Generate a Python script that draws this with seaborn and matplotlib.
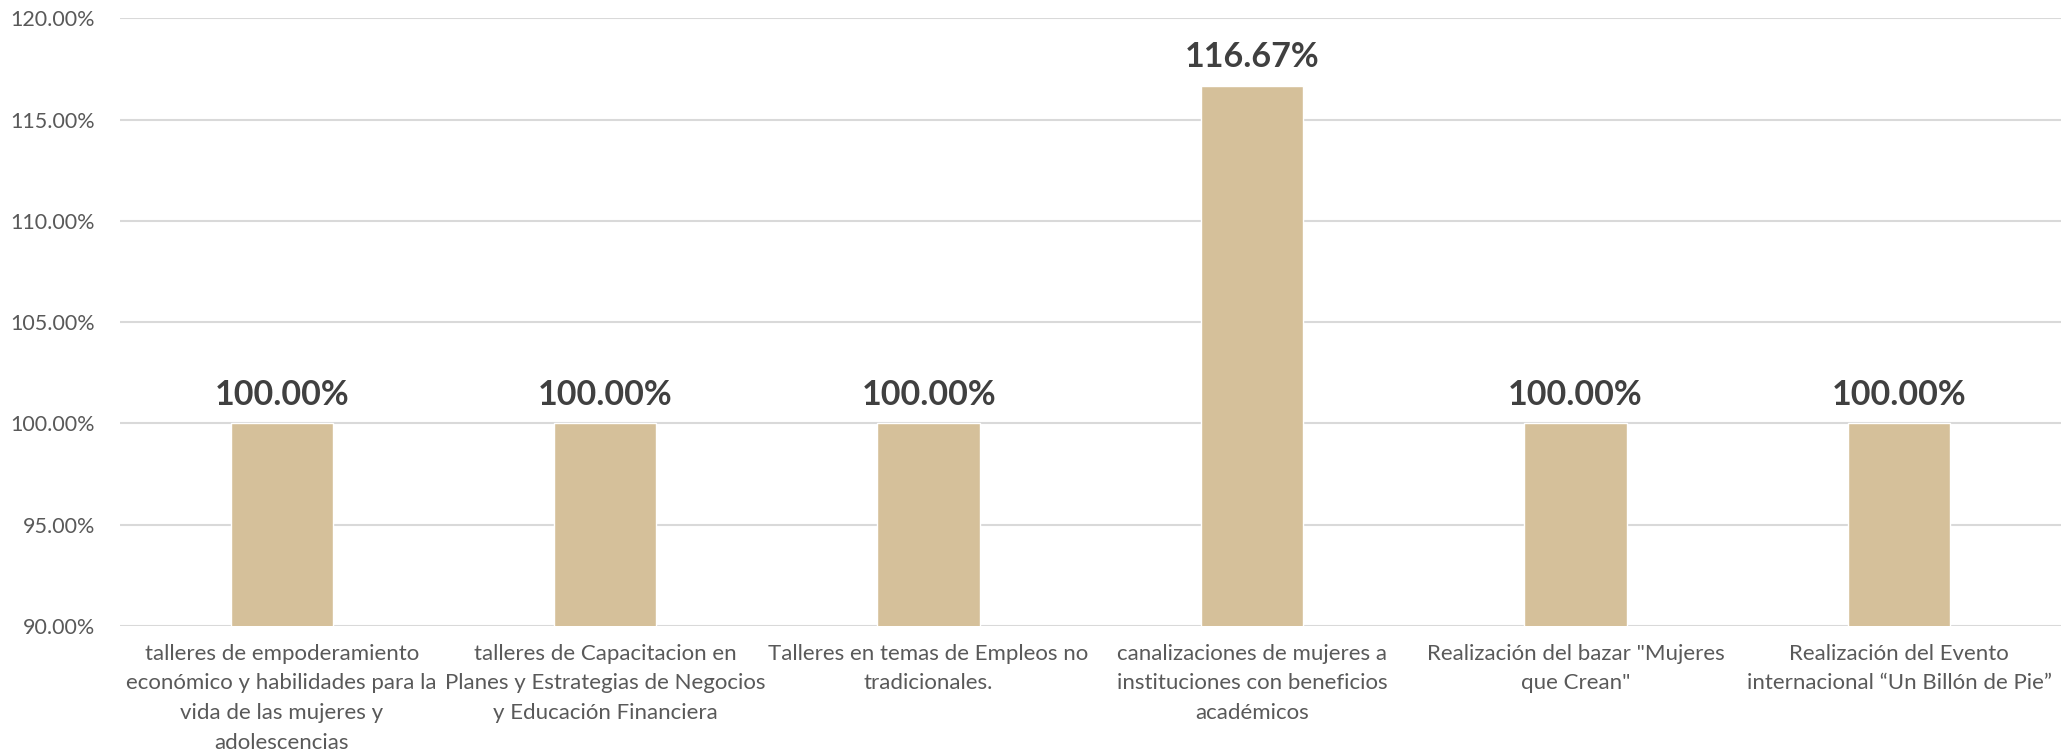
import matplotlib
matplotlib.use("Agg")
import matplotlib.pyplot as plt
import matplotlib.ticker as ticker
import seaborn as sns

# ── Datos ─────────────────────────────────────────────────────────────────────
categorias = [
    "talleres de empoderamiento\neconómico y habilidades para la\nvida de las mujeres y\nadolescencias",
    "talleres de Capacitacion en\nPlanes y Estrategias de Negocios\ny Educación Financiera",
    "Talleres en temas de Empleos no\ntradicionales.",
    "canalizaciones de mujeres a\ninstituciones con beneficios\nacadémicos",
    "Realización del bazar \"Mujeres\nque Crean\"",
    "Realización del Evento\ninternacional “Un Billón de Pie”",
]
porcentajes = [100.00, 100.00, 100.00, 116.67, 100.00, 100.00]
y_ticks = [90, 95, 100, 105, 110, 115, 120]

COLOR_BARRA = "#D5C09A"
COLOR_TEXTO = "#595959"
COLOR_ETIQ  = "#404040"
COLOR_GRID  = "#D9D9D9"

sns.set_theme(style="white")
plt.rcParams["font.family"] = ["Lato", "DejaVu Sans"]

fig, ax = plt.subplots(figsize=(20.67, 7.54), dpi=100)
fig.subplots_adjust(left=0.058, right=0.997, top=0.9755, bottom=0.170)

sns.barplot(x=categorias, y=porcentajes, color=COLOR_BARRA, width=0.316,
            saturation=1, ax=ax, zorder=3)

ax.set_ylim(90, 120)
ax.set_yticks(y_ticks)
ax.yaxis.set_major_formatter(ticker.FuncFormatter(lambda v, p: f"{v:.2f}%"))
ax.grid(axis="y", color=COLOR_GRID, linewidth=1.5, zorder=0)
ax.set_axisbelow(True)
for s in ax.spines.values():
    s.set_visible(False)

ax.tick_params(axis="y", length=0, pad=18, labelsize=15.5, labelcolor=COLOR_TEXTO)
ax.tick_params(axis="x", length=0, pad=13, labelsize=16, labelcolor=COLOR_TEXTO)
for lbl in ax.get_xticklabels():
    lbl.set_linespacing(1.6)
    lbl.set_multialignment("center")

ax.bar_label(ax.containers[0], fmt="%.2f%%", padding=9, fontsize=24.5,
             fontweight="bold", color=COLOR_ETIQ)

ax.set_xlabel("")
ax.set_ylabel("")

fig.savefig("out.png", dpi=100)
